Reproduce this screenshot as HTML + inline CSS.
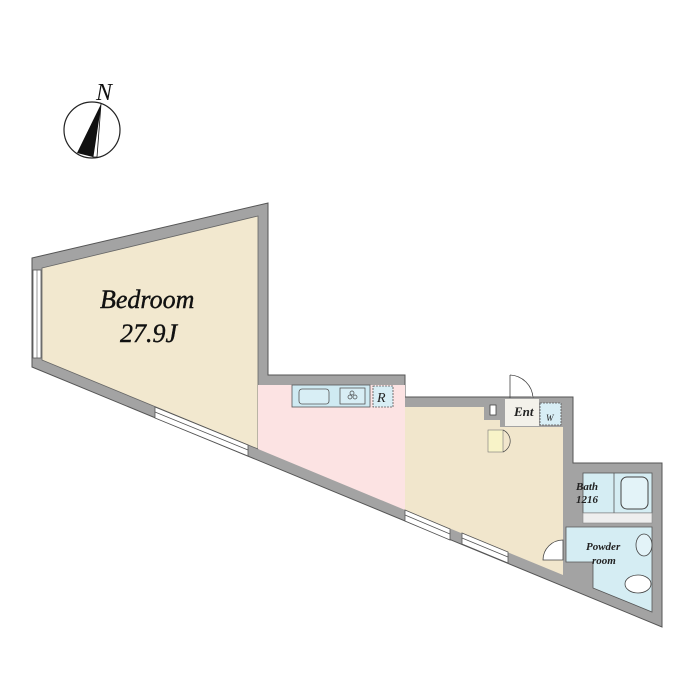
<!DOCTYPE html>
<html><head><style>body{margin:0;background:#fff}svg{display:block}</style></head><body>
<svg width="700" height="700" viewBox="0 0 700 700" xmlns="http://www.w3.org/2000/svg" font-family="Liberation Serif, serif" font-style="italic">
<!-- compass -->
<circle cx="92" cy="130" r="28" fill="none" stroke="#222" stroke-width="1.2"/>
<polygon points="101,104 77,153 93,157" fill="#111"/>
<polygon points="101,104 93,157 97,157" fill="#fff" stroke="#111" stroke-width="0.8"/>
<text x="96" y="100" font-size="24" fill="#111">N</text>
<!-- walls outer -->
<polygon points="32,258 268,203 268,375 405,375 405,397 573,397 573,463 662,463 662,627 32,367" fill="#a3a3a3" stroke="#555" stroke-width="1"/>
<!-- floors -->
<polygon points="42,268 258,216 258,449 42,360" fill="#f2e8cf" stroke="#666" stroke-width="0.8"/>
<polygon points="258,385 405,385 405,510 258,449" fill="#fce3e3"/>
<polygon points="395,385 405,385 405,407 395,407" fill="#fce3e3"/>
<polygon points="405,407 563,407 563,575 405,510" fill="#f1e6cc"/>
<!-- entrance area -->
<rect x="500" y="407" width="63" height="20" fill="#a3a3a3"/>
<rect x="505" y="399" width="34" height="27" fill="#f3f1ea"/>
<rect x="540" y="403" width="21" height="22" fill="#d8eef5" stroke="#555" stroke-width="0.8" stroke-dasharray="2,1"/>
<text x="514" y="416" font-size="13" font-weight="bold" fill="#222">Ent</text>
<text x="546" y="421" font-size="9" fill="#222">W</text>
<rect x="484" y="398" width="16" height="22" fill="#a3a3a3"/>
<rect x="490" y="405" width="6" height="10" fill="#fff" stroke="#444" stroke-width="0.8"/>
<path d="M510,375 L510,398 M510,375 A24,24 0 0 1 533,398" fill="#fff" stroke="#444" stroke-width="0.8"/>
<rect x="488" y="430" width="15" height="22" fill="#f8f3c8" stroke="#777" stroke-width="0.6"/>
<path d="M503,430 A12,12 0 0 1 503,452" fill="none" stroke="#444" stroke-width="0.7"/>
<!-- kitchen -->
<rect x="292" y="385" width="78" height="22" fill="#cfeaf2" stroke="#555" stroke-width="0.8"/>
<rect x="299" y="389" width="30" height="15" rx="3" fill="#d8eef5" stroke="#555" stroke-width="0.8"/>
<rect x="340" y="388" width="25" height="16" fill="#d8eef5" stroke="#555" stroke-width="0.8"/>
<circle cx="350" cy="397" r="2" fill="none" stroke="#444" stroke-width="0.7"/><circle cx="355" cy="397" r="2" fill="none" stroke="#444" stroke-width="0.7"/><circle cx="352" cy="393" r="2" fill="none" stroke="#444" stroke-width="0.7"/>
<rect x="373" y="386" width="20" height="21" fill="#d8eef5" stroke="#555" stroke-width="0.8" stroke-dasharray="2,1"/>
<text x="377" y="402" font-size="14" fill="#222">R</text>
<!-- bath / powder -->
<rect x="583" y="473" width="69" height="40" fill="#d5edf3" stroke="#555" stroke-width="0.8"/>
<line x1="614" y1="473" x2="614" y2="513" stroke="#555" stroke-width="0.8"/>
<rect x="621" y="477" width="27" height="32" rx="6" fill="#e3f3f8" stroke="#444" stroke-width="1"/>
<text x="576" y="490" font-size="11" font-weight="bold" fill="#222">Bath</text>
<text x="576" y="503" font-size="11" font-weight="bold" fill="#222">1216</text>
<rect x="583" y="513" width="69" height="10" fill="#eee" stroke="#888" stroke-width="0.6"/>
<polygon points="566,527 652,527 652,612 593,588 593,562 566,562" fill="#d5edf3" stroke="#555" stroke-width="0.8"/>
<text x="586" y="550" font-size="11" font-weight="bold" fill="#222">Powder</text>
<text x="592" y="564" font-size="11" font-weight="bold" fill="#222">room</text>
<ellipse cx="644" cy="545" rx="8" ry="11" fill="#e3f3f8" stroke="#444" stroke-width="0.8"/>
<ellipse cx="638" cy="584" rx="13" ry="9" fill="#fff" stroke="#444" stroke-width="0.8"/>
<path d="M543,560 A20,20 0 0 1 563,540 L563,560 Z" fill="#fff" stroke="#444" stroke-width="0.8"/>
<!-- windows -->
<rect x="33" y="270" width="8" height="88" fill="#fff" stroke="#555" stroke-width="0.8"/>
<line x1="37" y1="270" x2="37" y2="358" stroke="#555" stroke-width="0.6"/>
<polygon points="155,407 248,445 248,456 155,418" fill="#fff" stroke="#555" stroke-width="0.8"/>
<line x1="155" y1="412" x2="248" y2="450" stroke="#555" stroke-width="0.8"/>
<polygon points="405,510 450,529 450,540 405,521" fill="#fff" stroke="#555" stroke-width="0.8"/>
<line x1="405" y1="515" x2="450" y2="534" stroke="#555" stroke-width="0.8"/>
<polygon points="462,533 508,552 508,563 462,544" fill="#fff" stroke="#555" stroke-width="0.8"/>
<line x1="462" y1="538" x2="508" y2="557" stroke="#555" stroke-width="0.8"/>
<text x="100" y="308" font-size="26" fill="#111" stroke="#111" stroke-width="0.4">Bedroom</text>
<text x="120" y="342" font-size="26" fill="#111" stroke="#111" stroke-width="0.4">27.9J</text>
</svg>
</body></html>
